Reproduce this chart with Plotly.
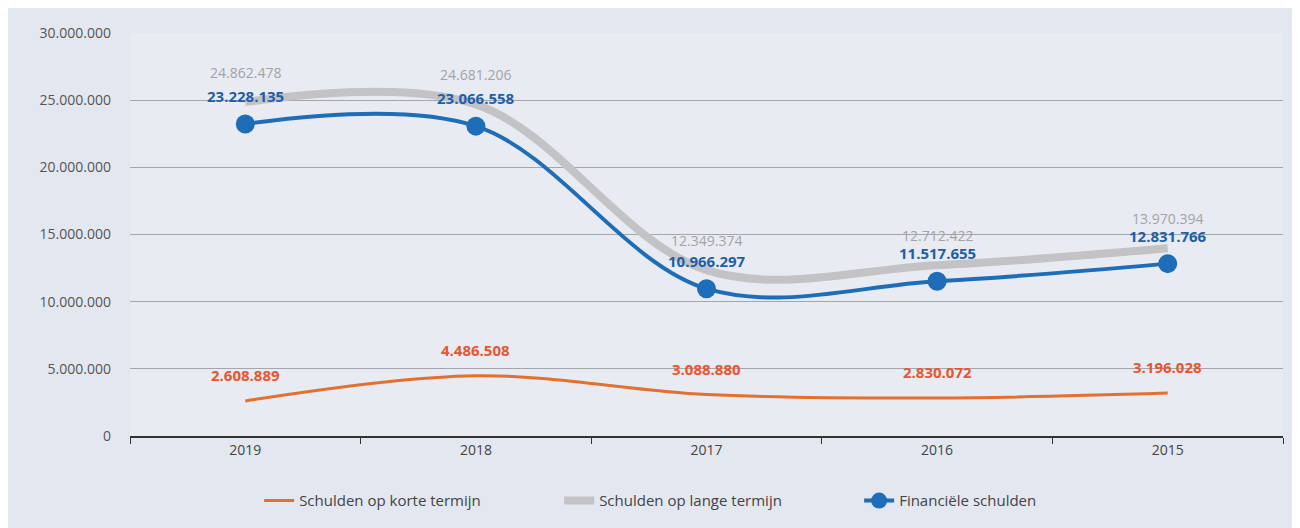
import plotly.graph_objects as go

jaren = ["2019", "2018", "2017", "2016", "2015"]
korte_termijn = [2608889, 4486508, 3088880, 2830072, 3196028]
lange_termijn = [24862478, 24681206, 12349374, 12712422, 13970394]
financiele = [23228135, 23066558, 10966297, 11517655, 12831766]
y_ticks = [0, 5000000, 10000000, 15000000, 20000000, 25000000, 30000000]


def fmt(v):
    return f"{v:,}".replace(",", ".")


fig = go.Figure()

fig.add_trace(go.Scatter(x=jaren, y=korte_termijn, name="Schulden op korte termijn",
                         mode="lines", line=dict(color="#e2702f", width=3, shape="spline")))
fig.add_trace(go.Scatter(x=jaren, y=lange_termijn, name="Schulden op lange termijn",
                         mode="lines", line=dict(color="#c3c3c6", width=8, shape="spline")))
fig.add_trace(go.Scatter(x=jaren, y=financiele, name="Financiële schulden",
                         mode="lines+markers", line=dict(color="#1d6db8", width=4, shape="spline"),
                         marker=dict(size=19, color="#1d6db8")))

# data labels (x as category index)
lbl_font = "Open Sans"
for i, v in enumerate(lange_termijn):
    fig.add_annotation(x=i, y=v, text=fmt(v), showarrow=False, yshift=30,
                       font=dict(color="#a3a3a8", size=14, family=lbl_font))
for i, v in enumerate(financiele):
    fig.add_annotation(x=i, y=v, text="<b>" + fmt(v) + "</b>", showarrow=False, yshift=28,
                       font=dict(color="#1d5fa8", size=15, family=lbl_font))
for i, v in enumerate(korte_termijn):
    fig.add_annotation(x=i, y=v, text="<b>" + fmt(v) + "</b>", showarrow=False, yshift=26,
                       font=dict(color="#e8552e", size=15, family=lbl_font))

fig.update_layout(
    width=1300, height=528,
    margin=dict(l=122, r=25, t=25, b=100),
    paper_bgcolor="#e3e7ef",
    plot_bgcolor="#e8ebf1",
    font=dict(family="Open Sans", size=14, color="#555"),
    legend=dict(orientation="h", x=0.112, xanchor="left", y=-0.12, yanchor="top",
                font=dict(size=15, color="#444"), bgcolor="rgba(0,0,0,0)",
                entrywidth=255, entrywidthmode="pixels"),
    showlegend=True,
)
fig.update_xaxes(type="category", range=[-0.5, 4.5], showgrid=False,
                 showline=True, linecolor="#333", linewidth=2,
                 ticks="outside", tickson="boundaries", ticklen=6, tickcolor="#333",
                 tickfont=dict(size=14, color="#444"))
fig.update_yaxes(range=[0, 30000000], tickvals=y_ticks, ticktext=[fmt(v) for v in y_ticks],
                 showgrid=True, gridcolor="#a4a6ad", gridwidth=1, zeroline=False,
                 tickfont=dict(size=14, color="#555"), ticks="", ticklabelstandoff=18)

fig.write_html("out.html")
